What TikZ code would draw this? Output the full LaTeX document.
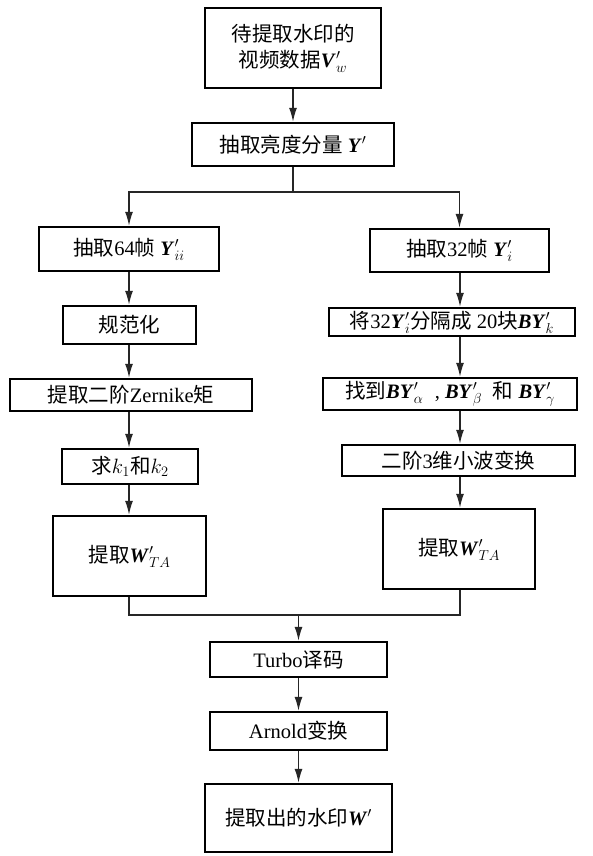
\documentclass[tikz,border=0pt]{standalone}
\usepackage{fontspec}
\setmainfont{Liberation Serif}
\newfontfamily\zhfont{Noto Sans CJK SC}
\newcommand\zh[1]{{\zhfont #1}}
\newcommand\bv[1]{\textbf{\textit{#1}}}
\usetikzlibrary{arrows.meta}
\tikzset{
  box/.style={draw, line width=2.4pt, inner sep=0pt, align=center,
    font=\fontsize{20.5}{26}\selectfont},
  conn/.style={line width=1.4pt, draw=black!85},
  arr/.style={conn, -{Latex[length=14pt,width=8pt]}},
}
\begin{document}
\begin{tikzpicture}[x=1pt,y=-1pt]
\useasboundingbox[fill=white] (0,0) rectangle (592,856);
% top
\node[box, minimum width=176, minimum height=80] (b1) at (293,48)
  {\zh{待提取水印的}\\\zh{视频数据}$\bv{V}_{w}^{\prime}$};
\node[box, minimum width=202, minimum height=43] (b2) at (293,144.5)
  {\zh{抽取亮度分量} $\bv{Y}^{\prime}$};
% left column
\node[box, minimum width=180, minimum height=44] (b3L) at (129,249)
  {\zh{抽取}64\zh{帧} $\bv{Y}_{ii}^{\prime}$};
\node[box, minimum width=133, minimum height=38] (b4L) at (129.5,325)
  {\zh{规范化}};
\node[box, minimum width=242, minimum height=32] (b5L) at (131,395)
  {\zh{提取二阶}Zernike\zh{矩}};
\node[box, minimum width=136, minimum height=35] (b6L) at (130,466.5)
  {\zh{求}$k_1$\zh{和}$k_2$};
\node[box, minimum width=153, minimum height=80] (b7L) at (129.5,556)
  {\zh{提取}$\bv{W}_{TA}^{\prime}$};
% right column
\node[box, minimum width=179, minimum height=43] (b3R) at (459.5,250.5)
  {\zh{抽取}32\zh{帧} $\bv{Y}_{i}^{\prime}$};
\node[box, minimum width=246, minimum height=28] (b4R) at (452,322)
  {\zh{将}32$\bv{Y}_{i}^{\prime}$\zh{分隔成} 20\zh{块}$\bv{BY}_{k}^{\prime}$};
\node[box, minimum width=254, minimum height=32] (b5R) at (450,394)
  {\zh{找到}$\bv{BY}^{\prime}_{\alpha}$\;\;, $\bv{BY}^{\prime}_{\beta}$\; \zh{和} $\bv{BY}^{\prime}_{\gamma}$};
\node[box, minimum width=233, minimum height=31] (b6R) at (458.5,460.5)
  {\zh{二阶}3\zh{维小波变换}};
\node[box, minimum width=152, minimum height=80] (b7R) at (459,549)
  {\zh{提取}$\bv{W}_{TA}^{\prime}$};
% bottom
\node[box, minimum width=177, minimum height=35] (tb) at (298.5,659.5)
  {Turbo\zh{译码}};
\node[box, minimum width=177, minimum height=38] (ar) at (298.5,731)
  {Arnold\zh{变换}};
\node[box, minimum width=187, minimum height=68] (fin) at (298.5,818)
  {\zh{提取出的水印}$\bv{W}^{\prime}$};
% connectors
\coordinate (split) at (293,192);
\coordinate (lc) at (129,0);
\coordinate (rc) at (460,0);
\coordinate (mg) at (298.5,615);
\draw[arr] (b1.south) -- (b2.north);
\draw[conn] (b2.south) -- (split);
\draw[arr] (split) -| (b3L.north);
\draw[arr] (split) -| (b3R.north);
\draw[arr] (lc |- b3L.south) -- (lc |- b4L.north);
\draw[arr] (lc |- b4L.south) -- (lc |- b5L.north);
\draw[arr] (lc |- b5L.south) -- (lc |- b6L.north);
\draw[arr] (lc |- b6L.south) -- (lc |- b7L.north);
\draw[arr] (rc |- b3R.south) -- (rc |- b4R.north);
\draw[arr] (rc |- b4R.south) -- (rc |- b5R.north);
\draw[arr] (rc |- b5R.south) -- (rc |- b6R.north);
\draw[arr] (rc |- b6R.south) -- (rc |- b7R.north);
\draw[conn] (lc |- b7L.south) |- (mg) -| (rc |- b7R.south);
\draw[arr] (mg) -- (tb.north);
\draw[arr] (tb.south) -- (ar.north);
\draw[arr] (ar.south) -- (fin.north);
\end{tikzpicture}
\end{document}
